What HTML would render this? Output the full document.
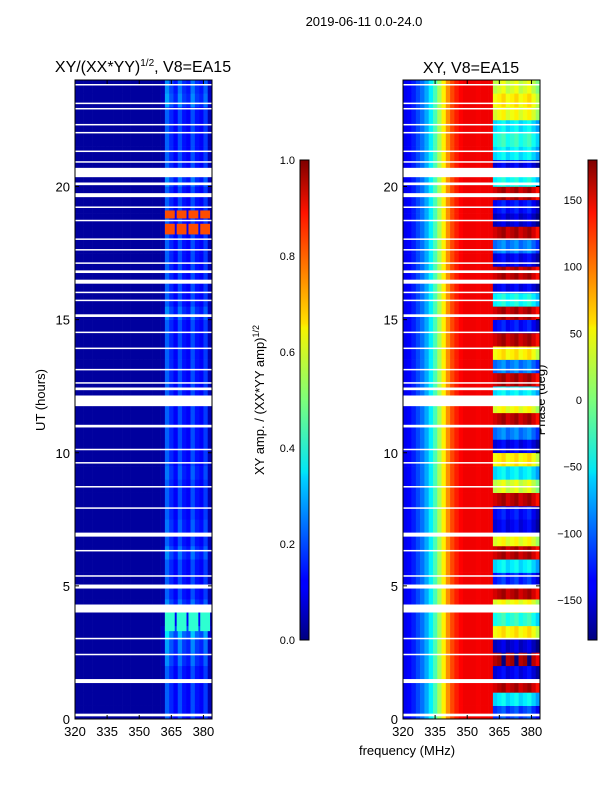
<!DOCTYPE html>
<html><head><meta charset="utf-8"><style>
body{margin:0;background:#fff;font-family:"Liberation Sans",sans-serif}
svg text{font-family:"Liberation Sans","DejaVu Sans",sans-serif;fill:#000}
</style></head><body>
<svg id="fig" width="600" height="800" xmlns="http://www.w3.org/2000/svg">
<defs>
<linearGradient id="jet" x1="0" y1="1" x2="0" y2="0">
<stop offset="0" stop-color="#00007f"/><stop offset="0.11" stop-color="#0000ff"/><stop offset="0.125" stop-color="#0000ff"/><stop offset="0.34" stop-color="#00d4ff"/><stop offset="0.35" stop-color="#00e5f7"/><stop offset="0.5" stop-color="#7dff7a"/><stop offset="0.65" stop-color="#f7f400"/><stop offset="0.66" stop-color="#ffe000"/><stop offset="0.89" stop-color="#ff1300"/><stop offset="1" stop-color="#7f0000"/>
</linearGradient>
</defs>
<text x="364" y="26" font-size="13" text-anchor="middle">2019-06-11 0.0-24.0</text>
<text x="143" y="72" font-size="16" text-anchor="middle">XY/(XX*YY)<tspan font-size="10" dy="-6">1/2</tspan><tspan dy="6">, V8=EA15</tspan></text>
<text x="471" y="73" font-size="16" text-anchor="middle">XY, V8=EA15</text>
<text transform="translate(45,400) rotate(-90)" font-size="13" text-anchor="middle">UT (hours)</text>
<text transform="translate(264,400) rotate(-90)" font-size="13" text-anchor="middle">XY amp. / (XX*YY amp)<tspan font-size="9" dy="-5">1/2</tspan></text>
<text transform="translate(545,400) rotate(-90)" font-size="13" text-anchor="middle">Phase (deg)</text>
<text x="407" y="755" font-size="13" text-anchor="middle">frequency (MHz)</text>
<g id="left"></g>
<g id="right"></g>
<g id="axes"></g>
<rect x="300" y="160" width="9" height="480" fill="url(#jet)" stroke="#000" stroke-width="1"/>
<rect x="588" y="160" width="9" height="480" fill="url(#jet)" stroke="#000" stroke-width="1"/>
</svg>
<script>
const freqs=[320,322,324,326,328,330,332,334,336,338,340,342,344,346,348,350,352,354,356,358,360,362,364,366,368,370,372,374,376,378,380,382];
const ampProfile=[0.03,0.03,0.03,0.03,0.03,0.03,0.03,0.03,0.03,0.03,0.03,0.03,0.03,0.03,0.03,0.03,0.03,0.03,0.03,0.03,0.04,0.22,0.16,0.12,0.2,0.14,0.12,0.2,0.14,0.12,0.18,0.05];
const phaseProfile=[-140,-135,-125,-110,-95,-75,-50,-20,15,50,85,110,125,135,140,140,140,138,140,140,140,0,10,20,0,10,20,0,10,20,0,-20];
const hours=[0,0.5,1,1.5,2,2.5,3,3.5,4,4.5,5,5.5,6,6.5,7,7.5,8,8.5,9,9.5,10,10.5,11,11.5,12,12.5,13,13.5,14,14.5,15,15.5,16,16.5,17,17.5,18,18.5,19,19.5,20,20.5,21,21.5,22,22.5,23,23.5];
const rowPhaseHigh=[-120,-60,150,-150,160,-160,40,-40,30,150,-130,-60,150,30,-150,-140,150,20,-60,40,-150,-100,150,30,-60,150,-100,40,150,-140,150,-50,-150,150,-150,-100,150,-160,-140,150,-50,-150,-60,-40,-60,30,40,20];
const ampRowGain=[1,1,1,1,1.2,1.3,1.6,1,1.2,1,1,1,1.2,1,1.1,1,1,1,1.1,1,1,1,1,1,1,1,1,1,1,1,1.2,1,1,1,1,1,1,1,1,1,1.2,1,1,1,1,1,1.3,1.2];
const brightBands=[[3.3,4.0,0.42],[18.2,18.6,0.8],[18.8,19.1,0.8]];
const gaps=[[0.1,0.2],[1.35,1.5],[2.4,2.45],[3.0,3.05],[4.0,4.3],[4.9,5.05],[5.35,5.4],[6.3,6.35],[6.85,7.0],[7.9,7.95],[8.7,8.75],[9.6,9.65],[10.1,10.15],[10.95,11.05],[11.75,12.15],[12.35,12.45],[12.6,12.65],[13.1,13.15],[13.9,13.95],[14.5,14.55],[15.1,15.2],[15.7,15.75],[16.0,16.05],[16.35,16.5],[16.75,16.85],[17.1,17.15],[17.6,17.65],[18.0,18.05],[18.7,18.75],[19.2,19.25],[19.6,19.75],[20.05,20.15],[20.35,20.7],[20.9,20.95],[21.3,21.35],[22.0,22.05],[22.3,22.35],[22.9,22.95],[23.1,23.15],[23.8,23.85]];
const xTicks=[320,335,350,365,380];
const yTicks=[0,5,10,15,20];
const ampTicks=[0.0,0.2,0.4,0.6,0.8,1.0];
const phaseTicks=[-150,-100,-50,0,50,100,150];

const NS="http://www.w3.org/2000/svg";
function jet(v){v=Math.max(0,Math.min(1,v));
 const r=Math.max(0,Math.min(1,Math.min(4*v-1.5,-4*v+4.5)));
 const g=Math.max(0,Math.min(1,Math.min(4*v-0.5,-4*v+3.5)));
 const b=Math.max(0,Math.min(1,Math.min(4*v+0.5,-4*v+2.5)));
 return `rgb(${Math.round(r*255)},${Math.round(g*255)},${Math.round(b*255)})`;}
const panels={left:75,right:403};
const W=137,TOP=80,BOT=719;
function xs(p,f){return panels[p]+(f-320)*W/64;}
function ys(h){return BOT-h*(BOT-TOP)/24;}
function mk(tag,attrs,parent){const e=document.createElementNS(NS,tag);for(const k in attrs)e.setAttribute(k,attrs[k]);parent.appendChild(e);return e;}
const L=document.getElementById('left'),R=document.getElementById('right'),A=document.getElementById('axes');
hours.forEach((h,i)=>{
 freqs.forEach((f,j)=>{
  let a=ampProfile[j]*(f>=360?ampRowGain[i]:1);
  let e=mk('rect',{x:xs('left',f),y:ys(h+0.5),width:W/32+0.3,height:(BOT-TOP)/48+0.3,fill:jet(a)},L);
  
  
  let ph=f>=361?rowPhaseHigh[i]+phaseProfile[j]:phaseProfile[j];
  ph=((ph+180)%360+360)%360-180;
  let e2=mk('rect',{x:xs('right',f),y:ys(h+0.5),width:W/32+0.3,height:(BOT-TOP)/48+0.3,fill:jet((ph+180)/360)},R);
  
  
 });
});
brightBands.forEach(b=>{
 [362,367.5,373,378.5].forEach(f0=>{
  let e=mk('rect',{x:xs('left',f0),y:ys(b[1]),width:W/64*4.6,height:ys(b[0])-ys(b[1]),fill:jet(b[2])},L);
  
  
 });
});
['left','right'].forEach(p=>{
 gaps.forEach(g=>{
  let e=mk('rect',{x:panels[p],y:ys(g[1]),width:W,height:Math.max(1.5,ys(g[0])-ys(g[1])),fill:'#fff'},p=='left'?L:R);
  
  
 });
 let fr=mk('rect',{x:panels[p],y:TOP,width:W,height:BOT-TOP,fill:'none',stroke:'#000','stroke-width':1},A);
 
 
 xTicks.forEach(t=>{
  const x=xs(p,t);
  mk('line',{x1:x,x2:x,y1:BOT,y2:BOT-4,stroke:'#000'},A);
  mk('line',{x1:x,x2:x,y1:TOP,y2:TOP+4,stroke:'#000'},A);
  let tx=mk('text',{x:x,y:BOT+17,'font-size':13,'text-anchor':'middle'},A);tx.textContent=t;
  
  
 });
 yTicks.forEach(t=>{
  const y=ys(t);
  mk('line',{x1:panels[p],x2:panels[p]+4,y1:y,y2:y,stroke:'#000'},A);
  mk('line',{x1:panels[p]+W,x2:panels[p]+W-4,y1:y,y2:y,stroke:'#000'},A);
  let tx=mk('text',{x:panels[p]-5,y:y+5,'font-size':13,'text-anchor':'end'},A);tx.textContent=t;
  
  
 });
});
ampTicks.forEach(t=>{
 const y=640-t*480;
 mk('line',{x1:300,x2:303,y1:y,y2:y,stroke:'#000'},A);
 let tx=mk('text',{x:295,y:y+4,'font-size':11,'text-anchor':'end'},A);tx.textContent=t.toFixed(1);
 
 
});
phaseTicks.forEach(t=>{
 const y=640-(t+180)/360*480;
 mk('line',{x1:588,x2:591,y1:y,y2:y,stroke:'#000'},A);
 let tx=mk('text',{x:582,y:y+4,'font-size':11,'text-anchor':'end'},A);tx.textContent=t==0?'0':(t<0?'\u2212'+(-t):t);
 
 
});
</script>
</body></html>
